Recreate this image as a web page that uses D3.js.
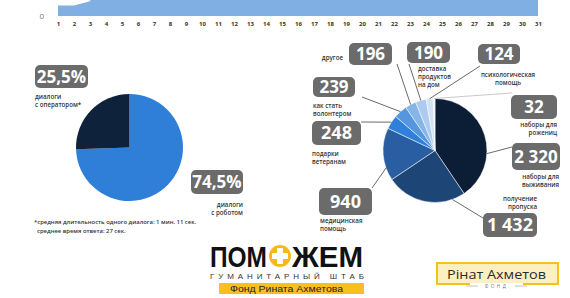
<!DOCTYPE html>
<html>
<head>
<meta charset="utf-8">
<script src="https://cdn.jsdelivr.net/npm/d3@7"></script>
<style>
    body { margin: 0; background: #fff; overflow: hidden; }
    svg { display: block; font-family: "Open Sans", sans-serif; }
</style>
</head>
<body>
<svg id="chart" width="570" height="298"></svg>
<script>
// Dialogs per day (only the bottom of this chart is on the picture)
const days = [1, 2, 3, 4, 5, 6, 7, 8, 9, 10, 11, 12, 13, 14, 15, 16, 17, 18, 19, 20, 21, 22, 23, 24, 25, 26, 27, 28, 29, 30, 31];
const dailyDialogs = [26, 26, 37, 160, 210, 240, 230, 250, 270, 260, 280, 300, 290, 310, 320, 300, 330, 340, 320, 350, 360, 340, 370, 380, 360, 390, 400, 380, 410, 420, 400];

// Robot vs operator
const channelNames = ['диалоги\nс роботом', 'диалоги\nс оператором*'];
const channelShares = [74.5, 25.5];

// Request topics
const topicNames = [
    'наборы для\nвыживания',
    'получение\nпропуска',
    'медицинская\nпомощь',
    'подарки\nветеранам',
    'как стать\nволонтером',
    'другое',
    'доставка\nпродуктов\nна дом',
    'психологическая\nпомощь',
    'наборы для\nрожениц'
];
const topicCounts = [2320, 1432, 940, 248, 239, 196, 190, 124, 32];

const footnoteLines = [
    '*средняя длительность одного диалога: 1 мин. 11 сек.',
    'среднее время ответа: 27 сек.'
];

// colours
const channelColors = ['#2f7ed8', '#0f223b'];
const topicColors = ['#0c1e36', '#1d4677', '#2a5ea3', '#2f7fdb', '#5596df', '#86b5e8', '#aecbef', '#d2e2f5', '#eef3fa'];
const boxFill = '#6b6b6b';

// label placement: box, where the leader meets the box, where on the slice it starts, text block
const topicLayout = [
    { box: [512, 143, 48, 27], fs: 17, end: [512, 147], t: 0.64, text: [559, 179, 'end'] },
    { box: [483, 213, 54, 24], fs: 18, end: [483, 218], t: 0.16, text: [537, 201, 'end'] },
    { box: [319, 188, 53, 27], fs: 18, end: [372, 188], t: 0.24, text: [320, 222.5, 'start'] },
    { box: [312, 121, 49, 24], fs: 18, end: [361, 122], t: 0.5, text: [312, 155.5, 'start'] },
    { box: [313, 77, 42, 20], fs: 17, end: [362, 97], t: 0.5, text: [313, 108, 'start'] },
    { box: [349, 43, 43, 22], fs: 17, end: [397, 64], t: 0.5, text: [343, 59.5, 'end'] },
    { box: [407, 42, 43, 21], fs: 17, end: [409, 64], t: 0.5, text: [418, 71, 'start'] },
    { box: [478, 44, 42, 20], fs: 17, end: [480, 66], t: 0.5, text: [508, 76.5, 'middle'] },
    { box: [511, 95, 46, 24], fs: 17, end: [512, 93], t: 0.5, text: [557, 127, 'end'] }
];
const channelLayout = [
    { box: [191, 170, 52, 24], text: [243, 207, 'end'] },
    { box: [35, 65, 53, 23], text: [35, 99, 'start'] }
];

const ru = d3.formatLocale({ decimal: ',', thousands: ' ', grouping: [3], currency: ['', ''] });
const fmtCount = ru.format(',');
const fmtShare = d => ru.format('.1f')(d) + '%';

const svg = d3.select('#chart');

// ---- top strip: daily area ----
const x = d3.scaleLinear().domain([1, 31]).range([58, 538]);
const y = d3.scaleLinear().domain([0, 1000]).range([16, -384]);

svg.append('path')
    .datum(dailyDialogs)
    .attr('fill', '#80afe4')
    .attr('d', d3.area()
        .x((d, i) => x(days[i]))
        .y0(y(0))
        .y1(d => y(d)));

svg.append('g')
    .attr('transform', `translate(0,${y(0)})`)
    .call(d3.axisBottom(x).tickValues(days).tickFormat(d3.format('d')).tickSize(0).tickPadding(6))
    .call(g => g.select('.domain').remove())
    .call(g => g.selectAll('text')
        .attr('font-family', '"Open Sans", sans-serif')
        .attr('font-size', 6)
        .attr('font-weight', 700)
        .attr('fill', '#333'));

svg.append('g')
    .attr('transform', 'translate(50,0)')
    .call(d3.axisLeft(y).tickValues([0]).tickSize(0).tickPadding(6))
    .call(g => g.select('.domain').remove())
    .call(g => g.selectAll('text')
        .attr('font-family', '"Open Sans", sans-serif')
        .attr('font-size', 8)
        .attr('fill', '#777'));

// helpers
function valueBox(g, box, fs, label) {
    g.append('rect')
        .attr('x', box[0]).attr('y', box[1])
        .attr('width', box[2]).attr('height', box[3])
        .attr('rx', 5)
        .attr('fill', boxFill);
    g.append('text')
        .attr('x', box[0] + box[2] / 2)
        .attr('y', box[1] + box[3] / 2)
        .attr('dy', '0.36em')
        .attr('text-anchor', 'middle')
        .attr('font-size', fs)
        .attr('font-weight', 700)
        .attr('fill', '#fff')
        .text(label);
}

function smallText(g, pos, str, lh) {
    const t = g.append('text')
        .attr('x', pos[0]).attr('y', pos[1])
        .attr('text-anchor', pos[2])
        .attr('font-size', 6.2)
        .attr('font-weight', 600)
        .attr('fill', '#333');
    str.split('\n').forEach((line, i) => {
        t.append('tspan')
            .attr('x', pos[0])
            .attr('dy', i === 0 ? 0 : lh)
            .text(line);
    });
}

// ---- left pie: robot vs operator ----
const pie = d3.pie().sort(null).value(d => d);

const leftR = 53.5;
const leftPie = svg.append('g').attr('transform', 'translate(129.5,147.5)');
leftPie.selectAll('path')
    .data(pie(channelShares))
    .enter()
    .append('path')
    .attr('d', d3.arc().innerRadius(0).outerRadius(leftR))
    .attr('fill', (d, i) => channelColors[i]);

channelShares.forEach((v, i) => {
    const lay = channelLayout[i];
    valueBox(svg, lay.box, 17, fmtShare(v));
    smallText(svg, lay.text, channelNames[i], 8);
});

const foot = svg.append('g');
footnoteLines.forEach((line, i) => {
    foot.append('text')
        .attr('x', i === 0 ? 34 : 37)
        .attr('y', 224 + i * 8.5)
        .attr('font-size', 5.9)
        .attr('font-weight', 600)
        .attr('fill', '#333')
        .text(line);
});

// ---- right pie: request topics ----
const rightR = 52;
const cx = 435, cy = 150.5;
const topicArcs = pie(topicCounts);

const rightPie = svg.append('g').attr('transform', `translate(${cx},${cy})`);
rightPie.selectAll('path')
    .data(topicArcs)
    .enter()
    .append('path')
    .attr('d', d3.arc().innerRadius(0).outerRadius(rightR))
    .attr('fill', (d, i) => topicColors[i])
    .attr('stroke', '#fff')
    .attr('stroke-width', 0.5);

// leader lines
svg.append('g')
    .selectAll('line')
    .data(topicArcs)
    .enter()
    .append('line')
    .each(function (d, i) {
        const lay = topicLayout[i];
        const a = d.startAngle + lay.t * (d.endAngle - d.startAngle);
        const p = d3.pointRadial(a, rightR);
        d3.select(this)
            .attr('x1', cx + p[0]).attr('y1', cy + p[1])
            .attr('x2', lay.end[0]).attr('y2', lay.end[1]);
    })
    .attr('stroke', (d, i) => i === topicCounts.length - 1 ? '#bbb' : '#444')
    .attr('stroke-width', 0.8);

topicCounts.forEach((v, i) => {
    const lay = topicLayout[i];
    valueBox(svg, lay.box, lay.fs, fmtCount(v));
    smallText(svg, lay.text, topicNames[i], 8);
});

// ---- logos ----
const logo = svg.append('g');
logo.append('text')
    .attr('x', 210).attr('y', 267)
    .attr('font-family', '"Liberation Sans", Arial, sans-serif')
    .attr('font-size', 30).attr('font-weight', 700)
    .attr('textLength', 57).attr('lengthAdjust', 'spacingAndGlyphs')
    .attr('fill', '#111')
    .text('ПОМ');
logo.append('circle')
    .attr('cx', 280).attr('cy', 256).attr('r', 11)
    .attr('fill', '#f6b91a');
logo.append('path')
    .attr('d', 'M277,248h6v5h5v6h-5v5h-6v-5h-5v-6h5z')
    .attr('fill', '#fff');
logo.append('text')
    .attr('x', 292).attr('y', 267)
    .attr('font-family', '"Liberation Sans", Arial, sans-serif')
    .attr('font-size', 30).attr('font-weight', 700)
    .attr('textLength', 71).attr('lengthAdjust', 'spacingAndGlyphs')
    .attr('fill', '#111')
    .text('ЖЕМ');
logo.append('text')
    .attr('x', 210).attr('y', 279)
    .attr('font-family', '"Liberation Sans", Arial, sans-serif')
    .attr('font-size', 8)
    .attr('textLength', 154).attr('lengthAdjust', 'spacing')
    .attr('fill', '#333')
    .text('ГУМАНИТАРНЫЙ ШТАБ');
logo.append('rect')
    .attr('x', 219).attr('y', 283).attr('width', 145).attr('height', 11)
    .attr('fill', '#f9bf22');
logo.append('text')
    .attr('x', 230).attr('y', 292)
    .attr('font-family', '"Liberation Sans", Arial, sans-serif')
    .attr('font-size', 9.5)
    .attr('textLength', 113).attr('lengthAdjust', 'spacingAndGlyphs')
    .attr('fill', '#222')
    .text('Фонд Рината Ахметова');

const fund = svg.append('g');
fund.append('rect')
    .attr('x', 437).attr('y', 263).attr('width', 121).attr('height', 21)
    .attr('fill', '#fdf0c0')
    .attr('stroke', '#f5c21b')
    .attr('stroke-width', 2);
fund.append('text')
    .attr('x', 447).attr('y', 279)
    .attr('font-family', '"Open Sans", sans-serif')
    .attr('font-size', 13.5)
    .attr('textLength', 99).attr('lengthAdjust', 'spacingAndGlyphs')
    .attr('fill', '#2b2b2b')
    .text('Рінат Ахметов');
fund.append('rect')
    .attr('x', 470).attr('y', 283).attr('width', 53).attr('height', 6)
    .attr('fill', '#fff');
fund.append('line')
    .attr('x1', 466).attr('x2', 478).attr('y1', 286).attr('y2', 286)
    .attr('stroke', '#999').attr('stroke-width', 0.6);
fund.append('line')
    .attr('x1', 515).attr('x2', 527).attr('y1', 286).attr('y2', 286)
    .attr('stroke', '#999').attr('stroke-width', 0.6);
fund.append('text')
    .attr('x', 496.5).attr('y', 288)
    .attr('text-anchor', 'middle')
    .attr('font-size', 4.5)
    .attr('letter-spacing', 2.5)
    .attr('fill', '#777')
    .text('ФОНД');
</script>
</body>
</html>
